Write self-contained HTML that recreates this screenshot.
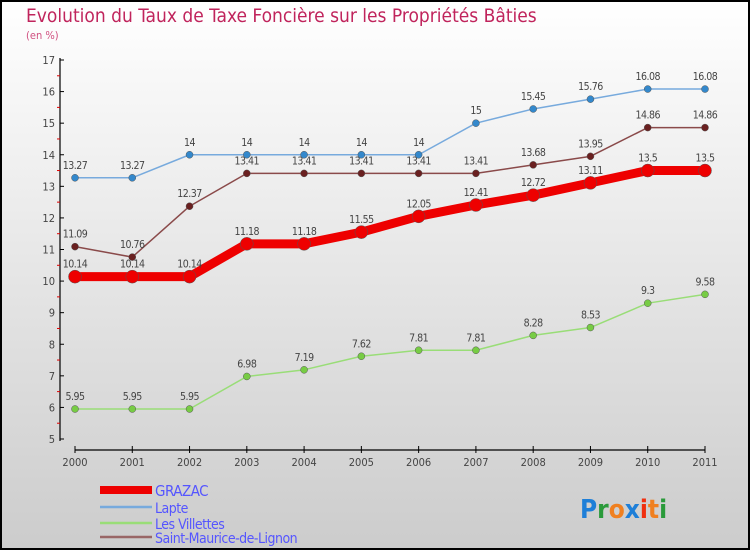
<!DOCTYPE html>
<html><head><meta charset="utf-8"><style>
body{margin:0;}
#c{width:750px;height:550px;position:relative;font-family:"DejaVu Sans","Liberation Sans",sans-serif;}
text{font-family:"DejaVu Sans Condensed","DejaVu Sans","Liberation Sans",sans-serif;}
</style></head><body>
<div id="c">
<svg id="s" width="750" height="550" xmlns="http://www.w3.org/2000/svg">
<defs><linearGradient id="bg" x1="0" y1="0" x2="0" y2="1"><stop offset="0" stop-color="#ffffff"/><stop offset="1" stop-color="#cccccc"/></linearGradient></defs>
<rect x="1" y="1" width="748" height="548" fill="url(#bg)" stroke="#000" stroke-width="2"/>
<text x="26" y="22" font-size="19" fill="#c0245c">Evolution du Taux de Taxe Foncière sur les Propriétés Bâties</text>
<text x="26" y="39" font-size="11" fill="#d05080">(en %)</text>
<g id="axes"></g><g id="series"></g><g id="legend"></g>
<text x="580" y="518" font-size="26" font-weight="bold"><tspan fill="#1e7fd8">P</tspan><tspan fill="#2a9a3a">r</tspan><tspan fill="#f08020">o</tspan><tspan fill="#1e7fd8">x</tspan><tspan fill="#f03010">i</tspan><tspan fill="#f08020">t</tspan><tspan fill="#2a9a3a">i</tspan></text>
</svg></div>
<script>
const years=[2000,2001,2002,2003,2004,2005,2006,2007,2008,2009,2010,2011];
const grazac=[10.14,10.14,10.14,11.18,11.18,11.55,12.05,12.41,12.72,13.11,13.5,13.5];
const lapte=[13.27,13.27,14,14,14,14,14,15,15.45,15.76,16.08,16.08];
const villettes=[5.95,5.95,5.95,6.98,7.19,7.62,7.81,7.81,8.28,8.53,9.3,9.58];
const saintMaurice=[11.09,10.76,12.37,13.41,13.41,13.41,13.41,13.41,13.68,13.95,14.86,14.86];
const yTicks=[5,6,7,8,9,10,11,12,13,14,15,16,17];
const NS="http://www.w3.org/2000/svg";
const xs=i=>75+i*(630/11);
const ys=v=>439-(v-5)*(379/12);
function mk(t,a,p){const e=document.createElementNS(NS,t);for(const k in a)e.setAttribute(k,a[k]);p.appendChild(e);return e;}
const ax=document.getElementById('axes');
let yl=mk('line',{x1:60,y1:58,x2:60,y2:441,stroke:'#000','stroke-width':1.2},ax);


let xl=mk('line',{x1:75,y1:450,x2:705,y2:450,stroke:'#000','stroke-width':1.2},ax);


yTicks.forEach(v=>{
 mk('line',{x1:60,y1:ys(v),x2:64,y2:ys(v),stroke:'#000'},ax);
 if(v<17)mk('line',{x1:57,y1:ys(v+0.5),x2:60,y2:ys(v+0.5),stroke:'#d00'},ax);
 const t=mk('text',{x:55,y:ys(v)+4,'font-size':11,'text-anchor':'end',fill:'#444'},ax);t.textContent=v;
 
 
});
years.forEach((y,i)=>{
 mk('line',{x1:xs(i),y1:446,x2:xs(i),y2:453,stroke:'#000'},ax);
 const t=mk('text',{x:xs(i),y:466,'font-size':11,'text-anchor':'middle',fill:'#444'},ax);t.textContent=y;
 
 
});
const sg=document.getElementById('series');
function series(data,color,dot,w,r,name){
 const g=mk('g',{},sg);
 
 
 mk('polyline',{points:data.map((v,i)=>xs(i)+','+ys(v)).join(' '),fill:'none',stroke:color,'stroke-width':w,'stroke-linejoin':'round'},g);
 data.forEach((v,i)=>{
  const c=mk('circle',{cx:xs(i),cy:ys(v),r:r,fill:dot,stroke:'#555','stroke-width':0.5},g);
  
  
  const t=mk('text',{x:xs(i),y:ys(v)-9,'font-size':10.5,'text-anchor':'middle',fill:'#444','letter-spacing':'-0.5'},g);t.textContent=v;
  
  
 });
}
series(villettes,'#99dd77','#77cc44',1.5,3.5,'les-villettes-series');
series(saintMaurice,'#8a4a4a','#6a2020',1.5,3.5,'saint-maurice-series');
series(lapte,'#77aadd','#3388cc',1.5,3.5,'lapte-series');
series(grazac,'#ee0000','#ee0000',9,6.5,'grazac-series');
const lg=document.getElementById('legend');
[['GRAZAC','#ee0000',8,491,15],['Lapte','#77aadd',2.5,508,14],['Les Villettes','#99dd77',2.5,524,14],['Saint-Maurice-de-Lignon','#996666',2.5,538,14]].forEach(d=>{
 const g=mk('g',{},lg);
 
 
 mk('line',{x1:100,y1:d[3]-1,x2:152,y2:d[3]-1,stroke:d[1],'stroke-width':d[2]},g);
 const t=mk('text',{x:155,y:d[3]+5,'font-size':d[4],fill:'#5555ff','letter-spacing':'-0.5'},g);t.textContent=d[0];
});
</script>
</body></html>
